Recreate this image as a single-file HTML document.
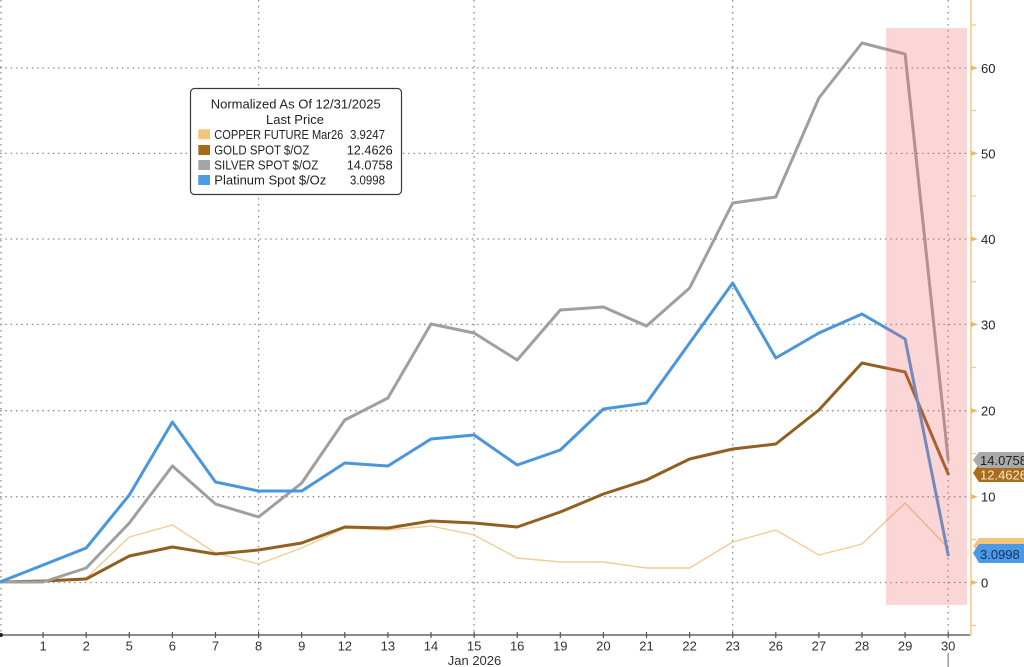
<!DOCTYPE html>
<html>
<head>
<meta charset="utf-8">
<style>
  html, body { margin:0; padding:0; background:#ffffff; }
  body { width:1024px; height:667px; overflow:hidden; }
  svg { display:block; }
  text { font-family: "Liberation Sans", "DejaVu Sans", sans-serif; }
</style>
</head>
<body>
<svg width="1024" height="667" viewBox="0 0 1024 667" xmlns="http://www.w3.org/2000/svg">
  <rect x="0" y="0" width="1024" height="667" fill="#ffffff"/>

  <!-- horizontal dotted grid -->
  <g stroke="#8a8a8a" stroke-width="1.3" stroke-dasharray="1.5 3.8" fill="none">
    <line x1="0" y1="582.5" x2="970" y2="582.5"/>
    <line x1="0" y1="496.7" x2="970" y2="496.7"/>
    <line x1="0" y1="410.7" x2="970" y2="410.7"/>
    <line x1="0" y1="324.4" x2="970" y2="324.4"/>
    <line x1="0" y1="239.0" x2="970" y2="239.0"/>
    <line x1="0" y1="153.4" x2="970" y2="153.4"/>
    <line x1="0" y1="68" x2="970" y2="68"/>
  </g>
  <!-- vertical dotted grid -->
  <g stroke="#8a8a8a" stroke-width="1.3" stroke-dasharray="1.5 4.5" fill="none">
    <line x1="1" y1="0" x2="1" y2="635"/>
    <line x1="258.6" y1="0" x2="258.6" y2="635"/>
    <line x1="474.1" y1="0" x2="474.1" y2="635"/>
    <line x1="732.7" y1="0" x2="732.7" y2="635"/>
    <line x1="948.2" y1="0" x2="948.2" y2="635"/>
  </g>

  <!-- series -->
  <g fill="none" stroke-linejoin="round" stroke-linecap="round">
    <polyline stroke="#f0cd95" stroke-width="1.4" points="0,582 43.1,581 86.2,578 129.3,537 172.4,525 215.5,553 258.6,564 301.7,548 344.8,528 387.9,530 431,526 474.1,535 517.2,558 560.3,562 603.4,562 646.5,568 689.6,568 732.7,542 775.8,530 818.9,555 862,544 905.1,503 948.2,548"/>
    <polyline stroke="#915f1f" stroke-width="3" points="0,582 43.1,581 86.2,579 129.3,556 172.4,547 215.5,554 258.6,550 301.7,543 344.8,527 387.9,528 431,521 474.1,523 517.2,527 560.3,512 603.4,494 646.5,480 689.6,459 732.7,449 775.8,444 818.9,410 862,363 905.1,372 948.2,474"/>
    <polyline stroke="#9f9f9f" stroke-width="3" points="0,582 43.1,582 86.2,568 129.3,523 172.4,466 215.5,504 258.6,517 301.7,483 344.8,420 387.9,398 431,324 474.1,333 517.2,360 560.3,310 603.4,307 646.5,326 689.6,288 732.7,203 775.8,197 818.9,98 862,43 905.1,54 948.2,460"/>
    <polyline stroke="#4a96dc" stroke-width="3" points="0,582 43.1,565 86.2,548 129.3,495 172.4,422 215.5,482 258.6,491 301.7,491 344.8,463 387.9,466 431,439 474.1,435 517.2,465 560.3,450 603.4,409 646.5,403 689.6,343 732.7,283 775.8,358 818.9,333 862,314 905.1,339 948.2,555"/>
  </g>

  <!-- pink highlight overlay -->
  <rect x="886" y="28" width="81" height="577" fill="rgb(238,105,105)" fill-opacity="0.27"/>

  <!-- x axis -->
  <line x1="0" y1="635" x2="971" y2="635" stroke="#666" stroke-width="1.6"/>
  <circle cx="1" cy="635" r="2" fill="#222"/>
  <g stroke="#555" stroke-width="1.2">
    <line x1="43.1" y1="632" x2="43.1" y2="638"/>
    <line x1="86.2" y1="632" x2="86.2" y2="638"/>
    <line x1="129.3" y1="632" x2="129.3" y2="638"/>
    <line x1="172.4" y1="632" x2="172.4" y2="638"/>
    <line x1="215.5" y1="632" x2="215.5" y2="638"/>
    <line x1="258.6" y1="632" x2="258.6" y2="638"/>
    <line x1="301.7" y1="632" x2="301.7" y2="638"/>
    <line x1="344.8" y1="632" x2="344.8" y2="638"/>
    <line x1="387.9" y1="632" x2="387.9" y2="638"/>
    <line x1="431" y1="632" x2="431" y2="638"/>
    <line x1="474.1" y1="632" x2="474.1" y2="638"/>
    <line x1="517.2" y1="632" x2="517.2" y2="638"/>
    <line x1="560.3" y1="632" x2="560.3" y2="638"/>
    <line x1="603.4" y1="632" x2="603.4" y2="638"/>
    <line x1="646.5" y1="632" x2="646.5" y2="638"/>
    <line x1="689.6" y1="632" x2="689.6" y2="638"/>
    <line x1="732.7" y1="632" x2="732.7" y2="638"/>
    <line x1="775.8" y1="632" x2="775.8" y2="638"/>
    <line x1="818.9" y1="632" x2="818.9" y2="638"/>
    <line x1="862" y1="632" x2="862" y2="638"/>
    <line x1="905.1" y1="632" x2="905.1" y2="638"/>
    <line x1="948.2" y1="632" x2="948.2" y2="638"/>
  </g>
  <line x1="948.2" y1="653" x2="948.2" y2="667" stroke="#9a9a9a" stroke-width="1.5"/>
  <g font-size="13" fill="#333" text-anchor="middle" dominant-baseline="central">
    <text x="43.1" y="646">1</text>
    <text x="86.2" y="646">2</text>
    <text x="129.3" y="646">5</text>
    <text x="172.4" y="646">6</text>
    <text x="215.5" y="646">7</text>
    <text x="258.6" y="646">8</text>
    <text x="301.7" y="646">9</text>
    <text x="344.8" y="646">12</text>
    <text x="387.9" y="646">13</text>
    <text x="431" y="646">14</text>
    <text x="474.1" y="646">15</text>
    <text x="517.2" y="646">16</text>
    <text x="560.3" y="646">19</text>
    <text x="603.4" y="646">20</text>
    <text x="646.5" y="646">21</text>
    <text x="689.6" y="646">22</text>
    <text x="732.7" y="646">23</text>
    <text x="775.8" y="646">26</text>
    <text x="818.9" y="646">27</text>
    <text x="862" y="646">28</text>
    <text x="905.1" y="646">29</text>
    <text x="948.2" y="646">30</text>
    <text x="474.5" y="660.5">Jan 2026</text>
  </g>

  <!-- right axis -->
  <line x1="971" y1="0" x2="971" y2="636" stroke="#f3d6a2" stroke-width="2"/>
  <g stroke="#f0c888" stroke-width="1.2">
    <line x1="971" y1="25" x2="976" y2="25"/>
    <line x1="971" y1="110.5" x2="976" y2="110.5"/>
    <line x1="971" y1="196" x2="976" y2="196"/>
    <line x1="971" y1="281.7" x2="976" y2="281.7"/>
    <line x1="971" y1="367.5" x2="976" y2="367.5"/>
    <line x1="971" y1="453.5" x2="976" y2="453.5"/>
    <line x1="971" y1="539.6" x2="976" y2="539.6"/>
    <line x1="971" y1="625.4" x2="976" y2="625.4"/>
  </g>
  <g fill="#efb55e">
    <polygon points="971,65.5 978,68 971,70.5"/>
    <polygon points="971,150.9 978,153.4 971,155.9"/>
    <polygon points="971,236.5 978,239 971,241.5"/>
    <polygon points="971,321.9 978,324.4 971,326.9"/>
    <polygon points="971,408.2 978,410.7 971,413.2"/>
    <polygon points="971,494.2 978,496.7 971,499.2"/>
    <polygon points="971,580 978,582.5 971,585"/>
  </g>
  <g font-size="13" fill="#222" dominant-baseline="central">
    <text x="981" y="68.5">60</text>
    <text x="981" y="154">50</text>
    <text x="981" y="239.5">40</text>
    <text x="981" y="325">30</text>
    <text x="981" y="411">20</text>
    <text x="981" y="497">10</text>
    <text x="981" y="583">0</text>
  </g>

  <!-- right-side value badges -->
  <polygon points="973,546 979,538 1024,538 1024,553 979,553" fill="#f2c47c"/>
  <polygon points="973,553 979,544 1024,544 1024,563 979,563" fill="#4b9ae6"/>
  <text x="980" y="554.5" font-size="13" fill="#16325e" dominant-baseline="central">3.0998</text>

  <polygon points="973,473 979,464 1024,464 1024,482 979,482" fill="#a86c1c"/>
  <text x="980" y="475" font-size="13" fill="#f6e6c6" dominant-baseline="central">12.4626</text>
  <polygon points="973,460 979,452 1024,452 1024,468 979,468" fill="#a9a9a9"/>
  <text x="980" y="460.5" font-size="13" fill="#222" dominant-baseline="central">14.0758</text>

  <!-- legend -->
  <rect x="190.5" y="88.5" width="211" height="106" rx="4" ry="4" fill="#ffffff" stroke="#3a3a3a" stroke-width="1.2"/>
  <g font-size="13" fill="#222" dominant-baseline="central">
    <text x="210.7" y="104" textLength="170" lengthAdjust="spacingAndGlyphs">Normalized As Of 12/31/2025</text>
    <text x="266" y="119.3" textLength="58" lengthAdjust="spacing">Last Price</text>
    <text x="214.3" y="134.5" textLength="129" lengthAdjust="spacingAndGlyphs">COPPER FUTURE Mar26</text>
    <text x="350" y="134.5" textLength="35" lengthAdjust="spacingAndGlyphs">3.9247</text>
    <text x="214.3" y="150" textLength="95" lengthAdjust="spacingAndGlyphs">GOLD SPOT $/OZ</text>
    <text x="346.7" y="150" textLength="46" lengthAdjust="spacingAndGlyphs">12.4626</text>
    <text x="214.3" y="165" textLength="104" lengthAdjust="spacingAndGlyphs">SILVER SPOT $/OZ</text>
    <text x="346.7" y="165" textLength="46" lengthAdjust="spacingAndGlyphs">14.0758</text>
    <text x="214.3" y="180" textLength="112" lengthAdjust="spacing">Platinum Spot $/Oz</text>
    <text x="350" y="180" textLength="35" lengthAdjust="spacingAndGlyphs">3.0998</text>
  </g>
  <rect x="198.3" y="129.3" width="11.7" height="10" fill="#f2c37a"/>
  <rect x="198.3" y="145" width="11.7" height="10" fill="#a46c1a"/>
  <rect x="198.3" y="160" width="11.7" height="10" fill="#a5a5a5"/>
  <rect x="198.3" y="175" width="11.7" height="10" fill="#4b9be6"/>
</svg>
</body>
</html>
